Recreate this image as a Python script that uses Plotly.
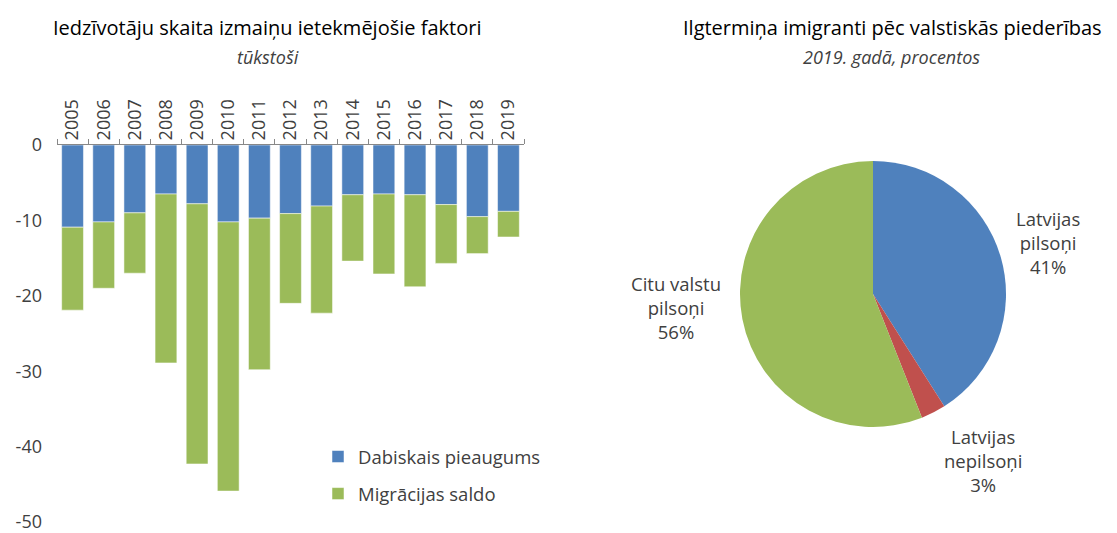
import plotly.graph_objects as go

years = [str(y) for y in range(2005, 2020)]
dabiskais = [-10.9, -10.2, -9.0, -6.5, -7.8, -10.2, -9.7, -9.1, -8.1, -6.6, -6.5, -6.6, -7.9, -9.5, -8.8]
migracija = [-11.0, -8.8, -8.0, -22.4, -34.5, -35.7, -20.1, -11.9, -14.2, -8.8, -10.6, -12.2, -7.8, -4.9, -3.4]
y_tickvals = [0, -10, -20, -30, -40, -50]
y_ticktext = ["0", "-10", "-20", "-30", "-40", "-50"]

pie_labels = ["Latvijas<br>pilsoņi", "Latvijas<br>nepilsoņi", "Citu valstu<br>pilsoņi"]
pie_values = [41, 3, 56]
pie_colors = ["#4F81BD", "#C0504D", "#9BBB59"]

# page offset (default body margin of the html page)
OFF = 8
W, H = 1117 - OFF, 533 - OFF
FONT = "Open Sans"
TXT = "#404040"


def px(x):
    return (x - OFF) / W


def py(y):
    return 1 - (y - OFF) / H


fig = go.Figure()
fig.add_trace(go.Bar(x=years, y=dabiskais, name="Dabiskais pieaugums", legendgroup="a",
                     marker=dict(color="#4F81BD", line=dict(color="rgba(255,255,255,0.5)", width=1))))
fig.add_trace(go.Bar(x=years, y=migracija, name="Migrācijas saldo", legendgroup="b",
                     marker=dict(color="#9BBB59", line=dict(color="rgba(255,255,255,0.5)", width=1))))

# pie
cx_px, cy_px, r_px = 873, 294, 133
fig.add_trace(go.Pie(values=pie_values, labels=pie_labels, sort=False, direction="clockwise",
                     rotation=0, marker=dict(colors=pie_colors), textinfo="none", showlegend=False,
                     hoverinfo="label+percent",
                     domain=dict(x=[px(cx_px - r_px), px(cx_px + r_px)],
                                 y=[py(cy_px + r_px), py(cy_px - r_px)])))

# label placement offsets relative to pie centre (layout only)
label_offsets = [(175, -51), (110, 166), (-197, 13)]
annotations = []
total = sum(pie_values)
for lab, v, (dx, dy) in zip(pie_labels, pie_values, label_offsets):
    annotations.append(dict(x=px(cx_px + dx), y=py(cy_px + dy), xref="paper", yref="paper",
                            text=f"{lab}<br>{round(v / total * 100)}%", showarrow=False,
                            xanchor="center", yanchor="middle", align="center",
                            font=dict(family=FONT, size=18.5, color=TXT)))

annotations += [
    dict(x=px(267), y=py(27), xref="paper", yref="paper", showarrow=False,
         text="Iedzīvotāju skaita izmaiņu ietekmējošie faktori", xanchor="center", yanchor="middle",
         font=dict(family=FONT, size=20, color="#000000")),
    dict(x=px(268), y=py(57), xref="paper", yref="paper", showarrow=False,
         text="<i>tūkstoši</i>", xanchor="center", yanchor="middle",
         font=dict(family=FONT, size=18, color=TXT)),
    dict(x=px(892), y=py(27), xref="paper", yref="paper", showarrow=False,
         text="Ilgtermiņa imigranti pēc valstiskās piederības", xanchor="center", yanchor="middle",
         font=dict(family=FONT, size=20, color="#000000")),
    dict(x=px(891), y=py(57), xref="paper", yref="paper", showarrow=False,
         text="<i>2019. gadā, procentos</i>", xanchor="center", yanchor="middle",
         font=dict(family=FONT, size=18, color=TXT)),
]

fig.update_layout(
    width=W, height=H, margin=dict(l=0, r=0, t=0, b=0, autoexpand=False),
    paper_bgcolor="white", plot_bgcolor="white",
    barmode="relative", bargap=0.3,
    font=dict(family=FONT, color=TXT),
    xaxis=dict(domain=[px(57), px(524)], side="top", type="category", tickangle=-90,
               showline=True, linecolor="#888888", linewidth=1, ticks="outside", tickson="boundaries",
               ticklen=5, tickcolor="#888888", tickfont=dict(size=18, color=TXT), showgrid=False,
               automargin=False),
    yaxis=dict(domain=[py(522), py(145)], range=[-50, 0], tickvals=y_tickvals,
               ticktext=y_ticktext, showgrid=False, automargin=False, ticklabeloverflow="allow",
               zeroline=False, showline=False, tickfont=dict(size=18, color=TXT), ticks="",
               ticklabelstandoff=14),
    legend=dict(x=px(318), y=py(438), xanchor="left", yanchor="top",
                font=dict(family=FONT, size=18.5, color=TXT), traceorder="grouped",
                tracegroupgap=10, bgcolor="rgba(0,0,0,0)", itemwidth=30),
    annotations=annotations,
)

fig.write_html("out.html")
